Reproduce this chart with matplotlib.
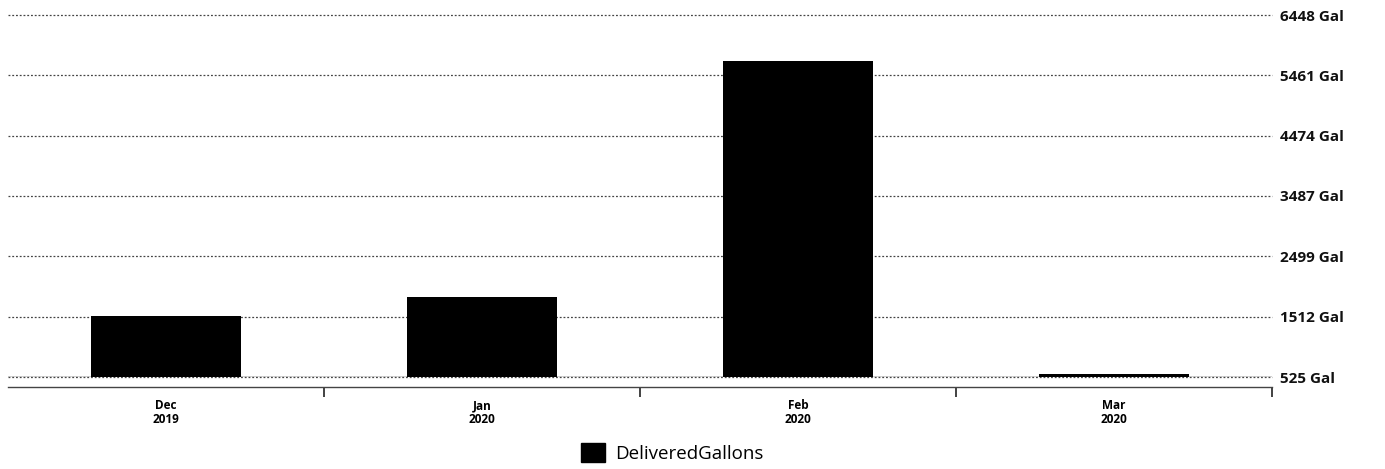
import numpy as np
import matplotlib
matplotlib.use("Agg")
import matplotlib.pyplot as plt
from matplotlib.patches import Patch

# Data
months = ["Dec\n2019", "Jan\n2020", "Feb\n2020", "Mar\n2020"]
delivered = [1530, 1840, 5690, 575]
y_ticks = [525, 1512, 2499, 3487, 4474, 5461, 6448]

plt.rcParams['font.family'] = ['Open Sans', 'DejaVu Sans']

fig = plt.figure(figsize=(13.85, 4.69), dpi=100)
ax = fig.add_axes([8 / 1385, 1 - 377 / 469, (1272 - 8) / 1385, (377 - 15) / 469])

# spines first: moving the bottom spine resets the x ticks
for side in ['top', 'left', 'right']:
    ax.spines[side].set_visible(False)
ax.spines['bottom'].set_position(('outward', 7))
ax.spines['bottom'].set_color('#444444')
ax.spines['bottom'].set_linestyle((0, (2, 1)))
ax.spines['bottom'].set_linewidth(1.0)

x = np.arange(len(months))
ax.bar(x, delivered, width=0.475, color='black', zorder=3)

ax.set_xlim(-0.5, len(months) - 0.5)
ax.set_ylim(y_ticks[0], y_ticks[-1])

# y axis on the right, no tick marks
ax.yaxis.tick_right()
ax.set_yticks(y_ticks, labels=[f"{v} Gal" for v in y_ticks],
              fontsize=11, fontweight='bold', color='#111111')
ax.tick_params(axis='y', length=0, pad=6)

# dotted grid lines
for v in y_ticks:
    ax.axhline(v, color='#444444', linestyle=(0, (1.5, 1.5)), linewidth=0.9,
               zorder=1, clip_on=False)
ax.axhline(y_ticks[0], color='#222222', linestyle='-', linewidth=1.0, zorder=2)

# category axis: labels centred, separator ticks between months
ax.set_xticks(np.arange(0.5, len(months)), minor=True)
ax.tick_params(axis='x', which='major', length=0, pad=9)
ax.tick_params(axis='x', which='minor', length=7, width=1.2, color='#222222',
               direction='out')
ax.set_xticks(x, labels=months, fontsize=8.5, fontweight='bold', linespacing=1.05)

# legend at the bottom
handle = Patch(facecolor='black', edgecolor='black')
fig.legend([handle], ["DeliveredGallons"], loc='center', bbox_to_anchor=(672 / 1385, 1 - 453 / 469),
           frameon=False, fontsize=13.5, handlelength=1.3, handleheight=1.2,
           handletextpad=0.5)

fig.savefig("out.png", dpi=100)
